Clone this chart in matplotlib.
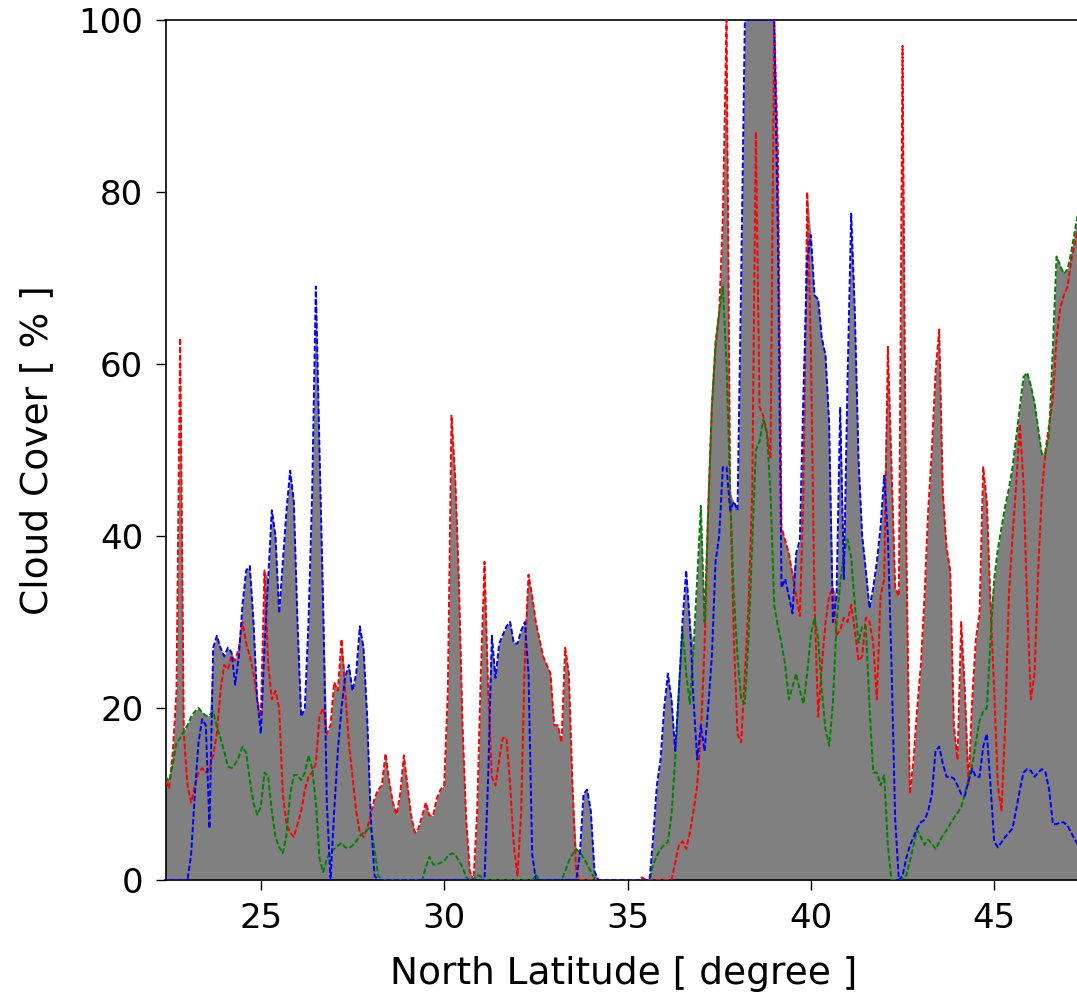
import numpy as np
import matplotlib
matplotlib.use("Agg")
import matplotlib.pyplot as plt

# Cloud cover [%] sampled every 0.1 degree of latitude, starting at 22.4 N
lat_start = 22.4
lat_step = 0.1

red = [
    11.5, 10.7, 15, 22, 63, 17,                          # 22.4-22.9
    11, 9, 11, 12.5, 13, 12.5, 13, 14.5, 17, 22,          # 23
    25, 24.5, 26, 25.5, 27, 30, 27.5, 26, 24, 21,         # 24
    19, 36, 25, 21, 22, 20, 10, 6.5, 5.5, 5,              # 25
    6.5, 8, 10.5, 12, 12.5, 13.5, 19, 20, 17, 18,         # 26
    23, 22, 28, 22, 16, 12, 8, 5.5, 5, 6,                 # 27
    7.6, 9.5, 10.5, 11, 14.7, 11.5, 9, 7.6, 10, 14.5,     # 28
    11, 7.5, 5.5, 6, 7.5, 9, 7.5, 7.5, 9.5, 10.5,         # 29
    11, 22, 54, 47, 35, 18, 7, 1, 0, 8,                   # 30
    24, 37, 22, 12, 11, 14, 16.5, 16.5, 11, 4,            # 31
    0.5, 8, 26, 35.5, 33, 30, 28, 26, 25, 24,             # 32
    18, 18, 16, 27, 24, 11, 1, 0, 0, 0,                   # 33
    0, 0, 0, 0, 0, 0, 0, 0, 0, 0,                         # 34
    0, 0, 0, 0, 0.3, 0, 0, 0, 0, 0,                       # 35
    0, 0, 0, 2, 4, 4.5, 3.6, 5.5, 8, 11,                  # 36
    17, 27, 43, 55, 62, 66, 77, 100, 45, 28,              # 37
    17, 16, 24, 32, 45, 87, 55, 54, 52, 49,               # 38
    100, 85, 41, 39.5, 38, 35.5, 33, 30.7, 45, 80,        # 39
    62, 32, 19, 25, 30, 33, 34, 28.5, 29, 30.5,           # 40
    30, 32, 29, 25.5, 26, 30.5, 30, 27.6, 21, 33,         # 41
    35, 62, 48, 34, 33, 97, 40, 10, 14, 20,               # 42
    25, 33, 43, 50, 59, 64, 45, 38.7, 36, 18,             # 43
    14, 30, 22, 11, 21, 28, 31, 48, 44, 32,               # 44
    22, 11, 8, 18, 33, 40, 46, 53, 46, 32,                # 45
    21, 24, 36, 45, 50, 53, 56, 63, 66.5, 68,             # 46
    69, 72, 74, 76,                                       # 47.0-47.3
]

blue = [
    0, 0, 0, 0, 0, 0,
    0, 3, 10, 16, 18.7, 18, 6, 27, 28.4, 27,
    26, 27, 26.5, 22.7, 26, 32, 36, 36.5, 30, 21,
    17, 27, 35, 43, 40, 31, 37, 43, 47.6, 44,
    30, 19, 20, 30, 45, 69, 50, 32, 9, 0,
    8, 15, 20, 23.6, 25, 22, 24, 29.5, 27, 19,
    7, 0.5, 0, 0, 0, 0, 0, 0, 0, 0,
    0, 0, 0, 0, 0, 0, 0, 0, 0, 0,
    0, 0, 0, 0, 0, 0, 0, 0, 0, 0,
    0, 0, 12, 28.4, 23.5, 27.5, 28.5, 29.5, 30, 27.5,
    27.5, 29, 30, 24, 3, 0, 0, 0, 0, 0,
    0, 0, 0, 0, 0, 0, 0, 3, 10, 10.5,
    8, 1, 0, 0, 0, 0, 0, 0, 0, 0,
    0, 0, 0, 0, 0, 0, 0, 5, 11, 14,
    20, 24, 21, 15, 22, 30, 36, 30, 21, 14,
    18, 15, 20, 26, 37, 40, 48, 48, 43, 44,
    43, 70, 100, 100, 100, 100, 100, 100, 100, 100,
    100, 75, 34, 35, 33, 31, 38, 39.6, 57, 72,
    75, 68, 67.5, 63, 61, 53, 30, 33, 55, 35,
    58, 77.5, 66, 49, 40, 36, 31.6, 34, 37, 41,
    47, 40, 25, 7, 0, 0.5, 2.5, 4, 5, 6,
    6.7, 7, 8, 10, 15, 15.5, 13.5, 12, 12, 11.8,
    11, 10, 9.8, 11.5, 12.9, 12, 12, 15.5, 17, 11,
    4.5, 3.8, 4.4, 5, 5.5, 6, 8.2, 10.5, 12.5, 12.9,
    12.7, 12, 12.5, 12.9, 12.5, 10.5, 6.5, 6.5, 6.7, 6.7,
    6.3, 5.5, 4.7, 4,
]

green = [
    12, 11.5, 13.5, 16, 16.5, 17.3,
    18, 19, 19.6, 20, 19.5, 19.1, 19.1, 19.6, 17.8, 16.5,
    15, 13.2, 13, 13.5, 14.3, 15.5, 14.8, 11.6, 8.9, 7.6,
    8.5, 12.5, 12, 8, 5, 3.8, 3.1, 5.3, 10, 12.2,
    12.2, 11.6, 12.5, 14.5, 13, 9, 2.5, 0.9, 2.5, 3.3,
    3.6, 4, 4.3, 3.8, 3.7, 4, 4.5, 5.1, 5.5, 5.8,
    6.2, 3.5, 0.5, 0, 0, 0, 0, 0, 0, 0,
    0, 0, 0, 0, 0, 1.5, 2.7, 1.8, 1.8, 2,
    2.2, 2.8, 3.1, 3, 2.2, 1.5, 0.3, 0, 0, 0.6,
    0.4, 0, 0, 0, 0, 0, 0, 0, 0, 0,
    0, 0, 0, 0, 0, 0.6, 0, 0, 0, 0,
    0, 0, 0, 1, 2.2, 3, 3.6, 3.2, 2.6, 1.8,
    1.0, 0.2, 0, 0, 0, 0, 0, 0, 0, 0,
    0, 0, 0, 0, 0, 0, 0, 1.8, 2.8, 3.6,
    4.1, 4.4, 7.6, 14, 22, 29, 24, 20.5, 27, 35,
    43.5, 30, 43, 55, 62.5, 66, 69, 60, 45, 33,
    26, 21, 20.5, 28, 39, 50, 51, 53.5, 52, 45,
    32, 29.5, 27.5, 25, 21, 22.5, 24, 22, 20.5, 24,
    28.5, 30.5, 28, 22, 17.5, 15.6, 20.5, 29.8, 34.5, 38,
    39.6, 37.5, 32, 27.6, 29.5, 29.5, 20, 12.5, 12.5, 11,
    12.2, 4, 0, 0, 0, 0.2, 0.5, 2.2, 4, 5.8,
    5, 4.1, 4.7, 4.2, 3.6, 4.4, 5.2, 5.8, 6.5, 7.2,
    7.8, 8.5, 10, 11.8, 13.3, 16, 18.5, 19.6, 20, 28,
    35, 38.5, 41, 43.5, 45.5, 48, 51.5, 55, 58.5, 59,
    57.5, 55.5, 52.5, 49.5, 49.5, 52, 62, 72.5, 71.5, 70.5,
    71, 73, 75.5, 78,
]

x_ticks = [25, 30, 35, 40, 45]
y_ticks = [0, 20, 40, 60, 80, 100]

lat = np.round(lat_start + lat_step * np.arange(len(red)), 2)
r = np.array(red, dtype=float)
b = np.array(blue, dtype=float)
g = np.array(green, dtype=float)
envelope = np.maximum.reduce([r, b, g])

W, H = 1077, 999
fig = plt.figure(figsize=(W / 100, H / 100), dpi=100)
ax = fig.add_axes([165.5 / W, 119 / H, 916.7 / W, 860 / H])

ax.fill_between(lat, 0, envelope, color="#808080", lw=0, zorder=1)
dash = (2.8, 1.2)
ax.plot(lat, r, color="red", ls="--", dashes=dash, lw=1.4, zorder=3)
ax.plot(lat, g, color="green", ls="--", dashes=dash, lw=1.4, zorder=3)
ax.plot(lat, b, color="blue", ls="--", dashes=dash, lw=1.4, zorder=3)

ax.set_xlim(22.4, 47.4)
ax.set_ylim(0, 100)
ax.set_xticks(x_ticks)
ax.set_yticks(y_ticks)
ax.tick_params(axis="both", direction="out", length=7, width=1,
               labelsize=24.5, pad=9, color="black")
for s in ax.spines.values():
    s.set_linewidth(1.2)
ax.set_xlabel("North Latitude [ degree ]", fontsize=27, labelpad=15)
ax.set_ylabel("Cloud Cover [ % ]", fontsize=27, labelpad=17)

fig.savefig("out.png", dpi=100)
